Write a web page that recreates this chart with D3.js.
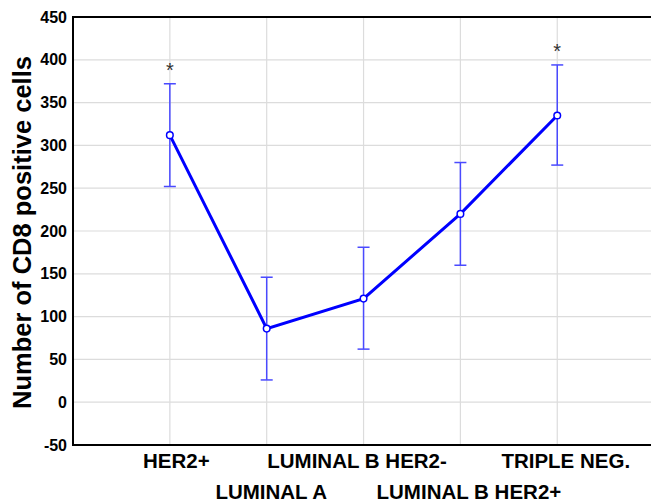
<!DOCTYPE html>
<html><head><meta charset="utf-8">
<script src="https://cdn.jsdelivr.net/npm/d3@7"></script>
<style>body{margin:0;background:#fff}svg{display:block}text{font-family:"Liberation Sans",Arial,sans-serif}</style>
</head><body><svg id="c" width="651" height="503"></svg>
<script>
const categories = ["HER2+","LUMINAL A","LUMINAL B HER2-","LUMINAL B HER2+","TRIPLE NEG."];
const means = [312, 86, 121, 220, 335];
const upper = [372, 146, 181, 280, 394];
const lower = [252, 26, 62, 160, 277];
const significant = [true, false, false, false, true];
const yTicks = [-50,0,50,100,150,200,250,300,350,400,450];

const svg = d3.select("#c");
const L = 73, R = 651, T = 17, B = 445;
const x = d3.scaleLinear().domain([0,6]).range([L, L + 6*96.85]);
const y = d3.scaleLinear().domain([-50,450]).range([B, T]);
const labelNudge = [6, 4, -7, 8, 8];

// grid
svg.append("g").selectAll("line").data(yTicks.slice(1,-1)).join("line")
  .attr("x1", L).attr("x2", R).attr("y1", d=>y(d)).attr("y2", d=>y(d))
  .attr("stroke", "#dcdcdc").attr("stroke-width", 1.2);
svg.append("g").selectAll("line").data(categories).join("line")
  .attr("x1", (d,i)=>x(i+1)).attr("x2", (d,i)=>x(i+1)).attr("y1", T).attr("y2", B)
  .attr("stroke", "#dcdcdc").attr("stroke-width", 1.2);

// axes
const yAxis = d3.axisLeft(y).tickValues(yTicks).tickSize(0).tickPadding(6).tickFormat(d=>String(d));
const gy = svg.append("g").attr("transform", `translate(${L},0)`).call(yAxis);
gy.select(".domain").remove();
gy.selectAll("text").style("font-size", "16px").attr("font-weight", "bold").attr("fill", "#000");

const xAxis = d3.axisBottom(x).tickValues([1,2,3,4,5]).tickSize(0).tickFormat(d=>categories[d-1]);
const gx = svg.append("g").attr("transform", `translate(0,${B})`).call(xAxis);
gx.select(".domain").remove();
gx.selectAll("text").style("font-size", "20.5px").attr("font-weight", "bold").attr("fill", "#000")
  .attr("dy", null).attr("x", d=>labelNudge[d-1]).attr("y", (d)=> d%2===1 ? 23 : 54);

svg.append("line").attr("x1", L).attr("x2", R).attr("y1", T).attr("y2", T).attr("stroke", "#000").attr("stroke-width", 2);
svg.append("line").attr("x1", L).attr("x2", R).attr("y1", B).attr("y2", B).attr("stroke", "#000").attr("stroke-width", 2);
svg.append("line").attr("x1", L).attr("x2", L).attr("y1", T-1).attr("y2", B+1).attr("stroke", "#000").attr("stroke-width", 2);

// y label
svg.append("text").attr("transform", `translate(31,232.5) rotate(-90)`)
  .attr("text-anchor", "middle").style("font-size", "25.5px").attr("font-weight", "bold").text("Number of CD8 positive cells");

// error bars
const eb = svg.append("g").attr("stroke", "#4a4aff").attr("stroke-width", 1.5);
categories.forEach((c,i)=>{
  const cx = x(i+1);
  eb.append("line").attr("x1", cx).attr("x2", cx).attr("y1", y(upper[i])).attr("y2", y(lower[i]));
  eb.append("line").attr("x1", cx-6).attr("x2", cx+6).attr("y1", y(upper[i])).attr("y2", y(upper[i]));
  eb.append("line").attr("x1", cx-6).attr("x2", cx+6).attr("y1", y(lower[i])).attr("y2", y(lower[i]));
});

// line
svg.append("path").datum(means)
  .attr("d", d3.line().x((d,i)=>x(i+1)).y(d=>y(d)))
  .attr("fill", "none").attr("stroke", "#0000ff").attr("stroke-width", 3);

svg.append("g").selectAll("circle").data(means).join("circle")
  .attr("cx", (d,i)=>x(i+1)).attr("cy", d=>y(d)).attr("r", 3.3)
  .attr("fill", "#fff").attr("stroke", "#0000ff").attr("stroke-width", 1.5);

// asterisks
svg.append("g").selectAll("text").data(categories.map((c,i)=>i).filter(i=>significant[i])).join("text")
  .attr("x", i=>x(i+1)).attr("y", i=>y(upper[i]) - 7).attr("text-anchor", "middle")
  .style("font-size", "20px").attr("fill", "#333").text("*");
</script></body></html>
